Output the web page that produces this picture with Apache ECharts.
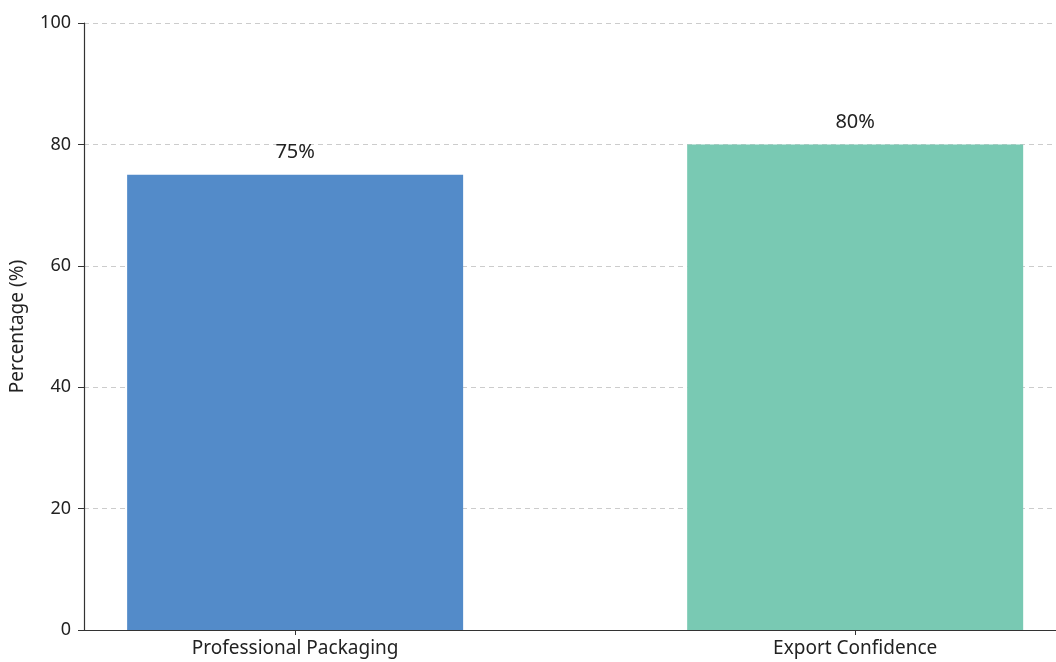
<!DOCTYPE html>
<html>
<head>
<meta charset="utf-8">
<script src="https://cdn.jsdelivr.net/npm/echarts@6/dist/echarts.min.js"></script>
<style>html,body{margin:0;padding:0;background:#fff}#c{width:1056px;height:662px}</style>
</head>
<body>
<div id="c"></div>
<script>
const categories = ['Professional Packaging', 'Export Confidence'];
const values = [75, 80];
const colors = ['#538BC9', '#79C9B3'];
const yTicks = [0, 20, 40, 60, 80, 100];

const chart = echarts.init(document.getElementById('c'), null, {renderer: 'canvas'});
const font = '"Noto Sans", Roboto, sans-serif';
chart.setOption({
  animation: false,
  grid: {left: 84, right: 0, top: 23, bottom: 32, containLabel: false, outerBoundsMode: 'none'},
  xAxis: {
    type: 'value',
    min: -0.377,
    max: 1.3586,
    axisLine: {show: true, onZero: false, lineStyle: {color: '#333', width: 1.2}},
    axisTick: {show: true, customValues: [0, 1], length: 5, lineStyle: {color: '#333'}},
    axisLabel: {
      show: true,
      customValues: [0, 1],
      formatter: v => categories[Math.round(v)],
      color: '#222', fontSize: 19, fontFamily: font, margin: 9
    },
    splitLine: {show: false}
  },
  yAxis: {
    type: 'value',
    min: 0, max: 100, interval: 20,
    name: 'Percentage (%)',
    nameLocation: 'middle',
    nameGap: 57,
    nameTextStyle: {color: '#222', fontSize: 19, fontFamily: font},
    axisLine: {show: true, onZero: false, lineStyle: {color: '#333', width: 1.2}},
    axisTick: {show: true, length: 6, lineStyle: {color: '#333'}},
    axisLabel: {color: '#222', fontSize: 18, fontFamily: font, margin: 13,
      formatter: v => yTicks.includes(v) ? String(v) : ''},
    splitLine: {show: true, lineStyle: {color: '#cccccc', type: [5, 4], width: 1}}
  },
  series: [{
    type: 'bar',
    barWidth: 336,
    data: values.map((v, i) => ({value: [i, v], itemStyle: {color: colors[i]}})),
    label: {
      show: true, position: 'top', distance: 12,
      formatter: p => p.value[1] + '%',
      color: '#222', fontSize: 20, fontFamily: font
    }
  }]
});
</script>
</body>
</html>
